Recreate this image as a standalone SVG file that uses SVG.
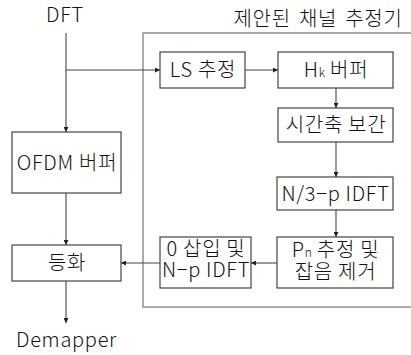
<svg xmlns="http://www.w3.org/2000/svg" width="411" height="355" viewBox="0 0 411 355">
<defs>
<style>
.box{fill:#fff;stroke:#444;stroke-width:1.2}
.wire{fill:none;stroke:#444;stroke-width:1.1;marker-end:url(#ah)}
.t{font-family:"Noto Sans CJK KR","Noto Sans",sans-serif;font-size:20px;font-weight:300;letter-spacing:0.7px;fill:#111;text-anchor:middle}
.sub{font-size:12px;letter-spacing:0}
</style>
<marker id="ah" viewBox="0 0 6 6" refX="6" refY="3" markerWidth="6" markerHeight="5" markerUnits="userSpaceOnUse" orient="auto">
<path d="M0,0 L6,3 L0,6 Z" fill="#222"/>
</marker>
</defs>
<rect width="411" height="355" fill="#fff"/>
<g id="frame">
<path d="M415,33 H143 V307 H415" fill="none" stroke="#aaa" stroke-width="2"/>
<text class="t" x="318" y="26" style="word-spacing:3px">제안된 채널 추정기</text>
</g>
<g id="connectors">
<path class="wire" d="M66,33 V132"/>
<path class="wire" d="M66,70 H160"/>
<path class="wire" d="M245,70 H278"/>
<path class="wire" d="M336,88 V108"/>
<path class="wire" d="M336,142 V177"/>
<path class="wire" d="M336,210 V237"/>
<path class="wire" d="M277,263 H251"/>
<path class="wire" d="M160,263 H121"/>
<path class="wire" d="M66,193 V245"/>
<path class="wire" d="M66,281 V323"/>
</g>
<g id="dft"><text class="t" x="65" y="22">DFT</text></g>
<g id="ls"><rect class="box" x="160" y="52" width="85" height="36"/><text class="t" x="203" y="77">LS 추정</text></g>
<g id="hk"><rect class="box" x="278" y="52" width="115" height="36"/><text class="t" x="336" y="77">H<tspan class="sub">k</tspan> 버퍼</text></g>
<g id="interp"><rect class="box" x="278" y="108" width="115" height="34"/><text class="t" x="336" y="132">시간축 보간</text></g>
<g id="idft3"><rect class="box" x="277" y="177" width="116" height="33"/><text class="t" x="335.5" y="200.5">N/3−p IDFT</text></g>
<g id="pn"><rect class="box" x="277" y="237" width="116" height="51"/><text class="t" x="335.5" y="257">P<tspan class="sub">n</tspan> 추정 및</text><text class="t" x="335.5" y="279">잡음 제거</text></g>
<g id="zero"><rect class="box" x="160" y="237" width="91" height="51"/><text class="t" x="206" y="256">0 삽입 및</text><text class="t" x="206" y="277">N−p IDFT</text></g>
<g id="ofdm"><rect class="box" x="12" y="132" width="109" height="61"/><text class="t" x="67" y="170">OFDM 버퍼</text></g>
<g id="eq"><rect class="box" x="12" y="245" width="109" height="36"/><text class="t" x="67" y="270">등화</text></g>
<g id="demapper"><text class="t" x="66.5" y="347">Demapper</text></g>
</svg>
